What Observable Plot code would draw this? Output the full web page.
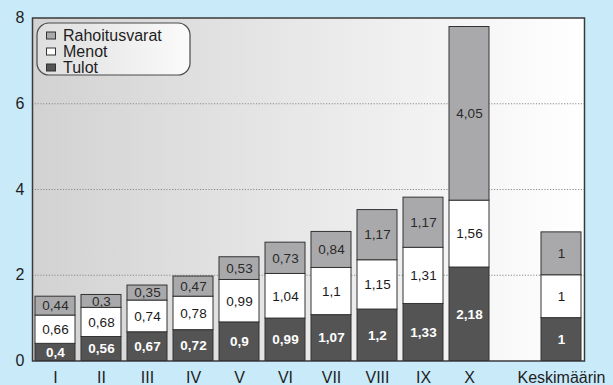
<!DOCTYPE html>
<html>
<head>
<meta charset="utf-8">
<script src="https://cdn.jsdelivr.net/npm/d3@7"></script>
<script src="https://cdn.jsdelivr.net/npm/@observablehq/plot@0.6"></script>
<style>
  html, body { margin: 0; padding: 0; background: #c8eaf9; }
  #chart { width: 613px; height: 385px; }
  svg text { font-family: "Liberation Sans", Arial, Helvetica, sans-serif; }
</style>
</head>
<body>
<div id="chart"></div>
<script>
// Categories along the x axis (an empty slot separates the average column)
const xTicks = ["I", "II", "III", "IV", "V", "VI", "VII", "VIII", "IX", "X", "", "Keskimäärin"];
const categories = ["I", "II", "III", "IV", "V", "VI", "VII", "VIII", "IX", "X", "Keskimäärin"];

// Series, bottom to top
const seriesNames = ["Tulot", "Menot", "Rahoitusvarat"];
const seriesColors = ["#545454", "#ffffff", "#a9a9ab"];

const tulot = [0.4, 0.56, 0.67, 0.72, 0.9, 0.99, 1.07, 1.2, 1.33, 2.18, 1];
const menot = [0.66, 0.68, 0.74, 0.78, 0.99, 1.04, 1.1, 1.15, 1.31, 1.56, 1];
const rahoitusvarat = [0.44, 0.3, 0.35, 0.47, 0.53, 0.73, 0.84, 1.17, 1.17, 4.05, 1];

const yTicks = [0, 2, 4, 6, 8];

const seriesValues = [tulot, menot, rahoitusvarat];
const rows = [];
seriesNames.forEach((s, si) => {
  categories.forEach((c, ci) => rows.push({category: c, series: s, value: seriesValues[si][ci]}));
});

const fmt = v => String(v).replace(".", ",");
const labelFor = s => d => d.series === s ? fmt(d.value) : null;

const font = "Liberation Sans, Arial, Helvetica, sans-serif";

const stackOpts = {x: "category", y: "value", z: "series"};

const chart = Plot.plot({
  width: 613,
  height: 385,
  marginLeft: 32,
  marginRight: 29,
  marginTop: 17.5,
  marginBottom: 24.5,
  style: {fontFamily: font, background: "transparent", color: "#1e1e1e"},
  x: {domain: xTicks, paddingInner: 0.13, paddingOuter: 0.065, label: null},
  y: {domain: [0, 8], label: null},
  color: {domain: seriesNames, range: seriesColors},
  marks: [
    Plot.frame({fill: "url(#plotAreaGrad)"}),
    Plot.gridY(yTicks.filter(t => t > 0 && t < 8), {stroke: "#8a8a8a", strokeOpacity: 1, strokeDasharray: "1.2,1.6", strokeWidth: 1}),
    Plot.barY(rows, Plot.stackY({...stackOpts, fill: "series", stroke: "#333", strokeWidth: 1})),
    Plot.text(rows, Plot.stackY({...stackOpts, text: labelFor("Tulot"), fill: "#ffffff", fontWeight: "bold", fontSize: 13.5})),
    Plot.text(rows, Plot.stackY({...stackOpts, text: labelFor("Menot"), fill: "#1a1a1a", fontSize: 13.5})),
    Plot.text(rows, Plot.stackY({...stackOpts, text: labelFor("Rahoitusvarat"), fill: "#2a2a2a", fontSize: 13.5})),
    Plot.axisY(yTicks, {tickSize: 0, tickPadding: 8, fontSize: 16, fill: "#1e1e1e", label: null}),
    Plot.axisX({tickSize: 0, tickPadding: 10.5, fontSize: 16, fill: "#1e1e1e", label: null}),
    Plot.frame({stroke: "#3a3a3a", strokeWidth: 1.5})
  ]
});

// Gradients for the plot area and the legend box
const svg = d3.select(chart);
const defs = svg.insert("defs", ":first-child");
const g1 = defs.append("linearGradient").attr("id", "plotAreaGrad").attr("x1", "0").attr("x2", "1").attr("y1", "0").attr("y2", "0");
g1.append("stop").attr("offset", "0").attr("stop-color", "#d2d2d2");
g1.append("stop").attr("offset", "1").attr("stop-color", "#ffffff");
const g2 = defs.append("linearGradient").attr("id", "legendGrad").attr("x1", "0").attr("x2", "1").attr("y1", "0").attr("y2", "0");
g2.append("stop").attr("offset", "0").attr("stop-color", "#dedede");
g2.append("stop").attr("offset", "1").attr("stop-color", "#fbfbfb");

// Legend, listed top to bottom in reverse stack order
const legend = svg.append("g").attr("text-anchor", "start");
legend.append("rect")
  .attr("x", 37).attr("y", 23).attr("width", 153).attr("height", 52)
  .attr("rx", 12).attr("ry", 12)
  .attr("fill", "url(#legendGrad)").attr("stroke", "#4a4a4a").attr("stroke-width", 1.2);
const legendItems = seriesNames.map((s, i) => ({name: s, color: seriesColors[i]})).reverse();
legendItems.forEach((d, i) => {
  const cy = 35.5 + i * 16;
  legend.append("rect")
    .attr("x", 46.5).attr("y", cy - 3.5).attr("width", 9).attr("height", 7)
    .attr("fill", d.color).attr("stroke", "#333").attr("stroke-width", 1);
  legend.append("text")
    .attr("x", 63).attr("y", cy).attr("dy", "0.36em")
    .attr("text-anchor", "start")
    .style("font-family", font)
    .style("font-size", "16px")
    .attr("fill", "#1e1e1e")
    .text(d.name);
});

document.getElementById("chart").appendChild(chart);
</script>
</body>
</html>
